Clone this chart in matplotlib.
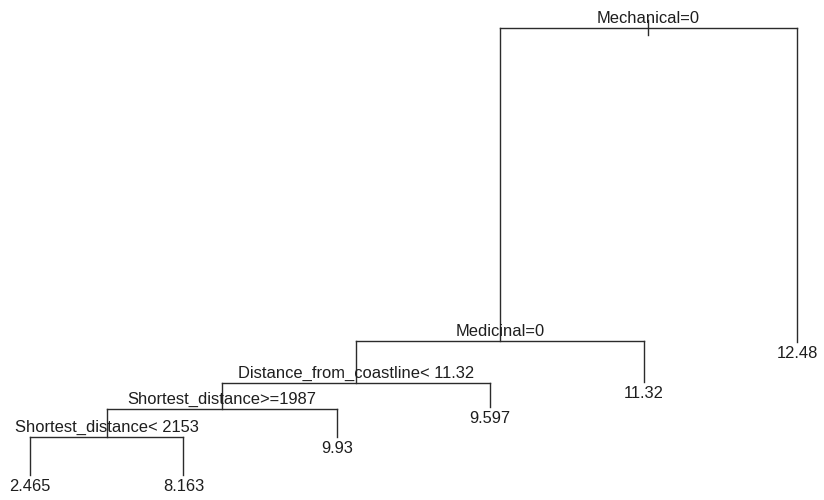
import matplotlib
matplotlib.use('Agg')
import matplotlib.pyplot as plt

# regression tree (rpart style plot), node depth scaled 0 (root) .. 1 (deepest leaf)
split_labels = ['Mechanical=0', 'Medicinal=0', 'Distance_from_coastline< 11.32',
                'Shortest_distance>=1987', 'Shortest_distance< 2153']
split_depth = [0.0, 0.700, 0.794, 0.852, 0.915]

leaf_labels = ['2.465', '8.163', '9.93', '9.597', '11.32', '12.48']
leaf_depth = [1.0, 1.0, 0.915, 0.848, 0.792, 0.702]

# children of every split: ('s', i) = split i, ('l', i) = leaf i
children = {
    0: [('s', 1), ('l', 5)],
    1: [('s', 2), ('l', 4)],
    2: [('s', 3), ('l', 3)],
    3: [('s', 4), ('l', 2)],
    4: [('l', 0), ('l', 1)],
}

plt.rcParams['font.family'] = ['Liberation Sans', 'DejaVu Sans']
fig = plt.figure(figsize=(8.24, 5), dpi=100)
ax = fig.add_axes([0, 0, 1, 1])
line_col = '#2b2b2b'
txt_col = '#1e1e1e'
fs = 11.9


def node_x(kind, i):
    if kind == 'l':
        return i + 1
    xs = [node_x(k, j) for k, j in children[i]]
    return sum(xs) / 2


def node_y(kind, i):
    return leaf_depth[i] if kind == 'l' else split_depth[i]


for s in children:
    xs = [node_x(k, j) for k, j in children[s]]
    ys = [node_y(k, j) for k, j in children[s]]
    y0 = split_depth[s]
    ax.plot([xs[0], xs[1]], [y0, y0], color=line_col, lw=1.0)
    for x, y in zip(xs, ys):
        ax.plot([x, x], [y0, y], color=line_col, lw=1.0)
    ax.annotate(split_labels[s], (node_x('s', s), y0), xytext=(0, 5),
                textcoords='offset pixels', ha='center', va='baseline',
                fontsize=fs, color=txt_col)

# little stem on the root
rx = node_x('s', 0)
ax.plot([rx, rx], [split_depth[0] - 0.017, split_depth[0] + 0.016], color=line_col, lw=1.0)

for i, lab in enumerate(leaf_labels):
    ax.annotate(lab, (node_x('l', i), leaf_depth[i]), xytext=(0, -16),
                textcoords='offset pixels', ha='center', va='baseline',
                fontsize=fs, color=txt_col)

ax.set_xlim(0.8044, 6.176)
ax.set_ylim(1.056, -0.0626)
ax.axis('off')
fig.savefig('out.png', dpi=100, facecolor='white')
